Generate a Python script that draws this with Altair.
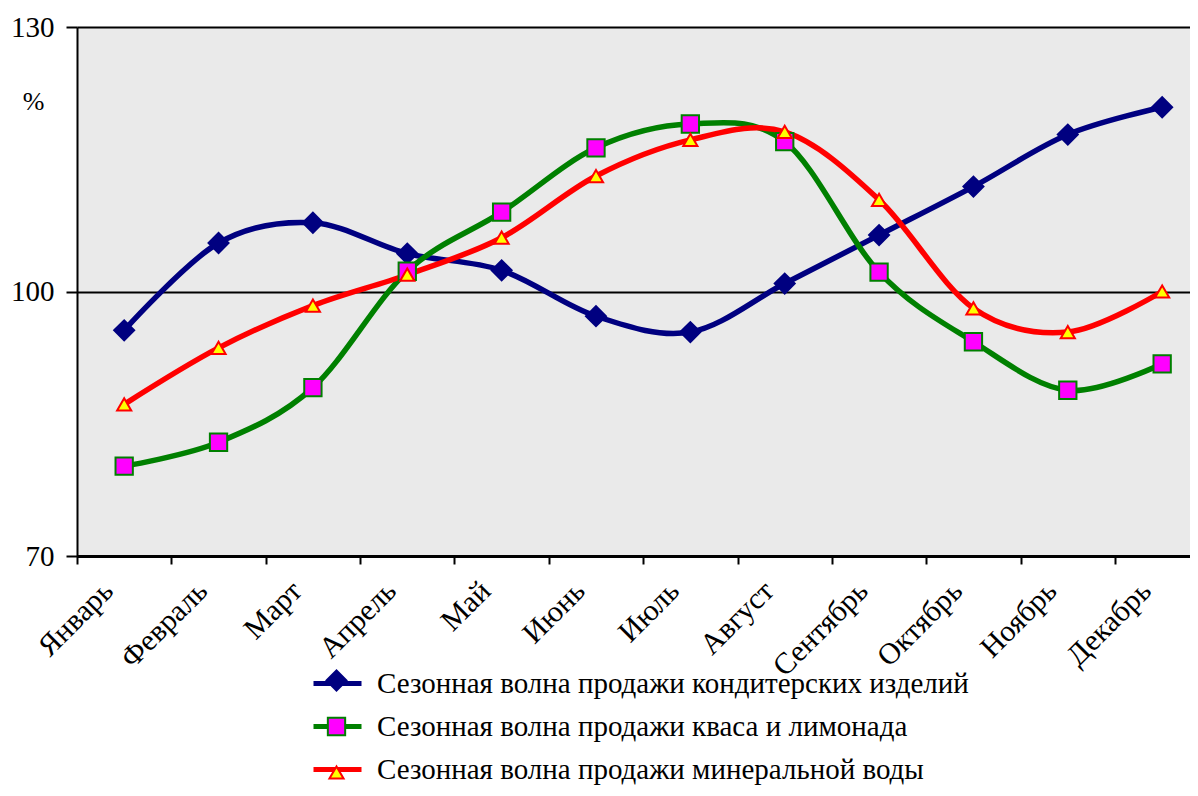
import altair as alt
import pandas as pd

months = ["Январь", "Февраль", "Март", "Апрель", "Май", "Июнь",
          "Июль", "Август", "Сентябрь", "Октябрь", "Ноябрь", "Декабрь"]
series_names = [
    "Сезонная волна продажи кондитерских изделий",
    "Сезонная волна продажи кваса и лимонада",
    "Сезонная волна продажи минеральной воды",
]
marker_keys = ["k", "l", "m"]
konditer = [95.6, 105.5, 107.8, 104.3, 102.4, 97.2, 95.4, 100.9, 106.4, 111.9, 117.8, 120.9]
kvas = [80.2, 82.9, 89.1, 102.3, 109.0, 116.3, 119.0, 117.0, 102.2, 94.3, 88.8, 91.8]
mineral = [87.2, 93.6, 98.4, 101.9, 106.1, 113.1, 117.2, 118.1, 110.4, 98.1, 95.4, 100.0]
y_ticks = [70, 100, 130]

line_colors = ["#000080", "#008000", "#ff0000"]
marker_fill = ["#000080", "#ff00ff", "#ffff00"]
marker_stroke = ["#000080", "#008000", "#ff0000"]
marker_shape = ["diamond", "square", "triangle-up"]
marker_size = [400, 200, 190]

rows = []
for name, key, vals in zip(series_names, marker_keys, [konditer, kvas, mineral]):
    for i, v in enumerate(vals):
        rows.append({"n": i + 1, "month": months[i], "series": name, "s2": key, "value": v})
df = pd.DataFrame(rows)

FONT = "Liberation Serif"
label_expr = "[" + ",".join("'%s'" % m for m in months) + "][round(datum.value - 0.5)]"

x = alt.X(
    "n:Q",
    scale=alt.Scale(domain=[0.5, 12.295], nice=False, zero=False),
    axis=alt.Axis(
        values=[i + 0.5 for i in range(12)],
        labelExpr=label_expr,
        labelAngle=-45,
        labelAlign="right",
        labelBaseline="middle",
        labelOffset=31,
        labelPadding=22,
        labelFontSize=30,
        labelFont=FONT,
        labelColor="black",
        labelFlush=False,
        labelOverlap=False,
        labelBound=False,
        tickSize=8,
        tickColor="black",
        tickWidth=2,
        domainColor="black",
        domainWidth=3,
        grid=False,
        title=None,
    ),
)
y = alt.Y(
    "value:Q",
    scale=alt.Scale(domain=[70, 130], nice=False, zero=False),
    axis=alt.Axis(
        values=y_ticks,
        title="%",
        titleAngle=0,
        titleX=-44,
        titleY=74,
        titleAlign="center",
        titleBaseline="middle",
        titleFontSize=26,
        titleFontWeight="normal",
        titleFont=FONT,
        titleColor="black",
        labelFontSize=29,
        labelFont=FONT,
        labelColor="black",
        labelPadding=12,
        tickSize=11,
        tickColor="black",
        tickWidth=2,
        grid=True,
        gridColor="black",
        gridWidth=2,
        domainColor="black",
        domainWidth=2,
    ),
)

LX = 234
LY = 639

line_legend = alt.Legend(
    orient="none", legendX=LX, legendY=LY - 9, title=None, padding=0,
    symbolType="stroke", symbolSize=2304, symbolStrokeWidth=5,
    labelFontSize=29, labelFont=FONT, labelColor="black", labelOffset=13,
    rowPadding=1, labelLimit=1000,
)
point_legend = alt.Legend(
    orient="none", legendX=LX + 11, legendY=LY, title=None, padding=0,
    symbolStrokeWidth=2, symbolOpacity=1,
    labelFontSize=29, labelFont=FONT, labelOpacity=0, labelOffset=19,
    rowPadding=16, labelLimit=1000,
)

lines = alt.Chart(df).mark_line(interpolate="cardinal", strokeWidth=5.5).encode(
    x=x, y=y,
    color=alt.Color("series:N", scale=alt.Scale(domain=series_names, range=line_colors), legend=line_legend),
)
points = alt.Chart(df).mark_point(filled=True, opacity=1, strokeWidth=2).encode(
    x=x, y=y,
    fill=alt.Fill("s2:N", scale=alt.Scale(domain=marker_keys, range=marker_fill), legend=point_legend),
    stroke=alt.Stroke("s2:N", scale=alt.Scale(domain=marker_keys, range=marker_stroke), legend=point_legend),
    shape=alt.Shape("s2:N", scale=alt.Scale(domain=marker_keys, range=marker_shape), legend=point_legend),
    size=alt.Size("s2:N", scale=alt.Scale(domain=marker_keys, range=marker_size), legend=point_legend),
)

chart = alt.layer(lines, points).properties(
    width=1113,
    height=529,
    autosize=alt.AutoSizeParams(type="none"),
    padding={"left": 69, "top": 19, "right": 0, "bottom": 232},
).configure(
    background="white", font=FONT, style={"guide-label": {"font": FONT}}
).configure_view(
    stroke="transparent", fill="#eaeaea"
).configure_legend(labelFont=FONT)

chart.save("out.html", embed_options={"renderer": "svg", "actions": False})
